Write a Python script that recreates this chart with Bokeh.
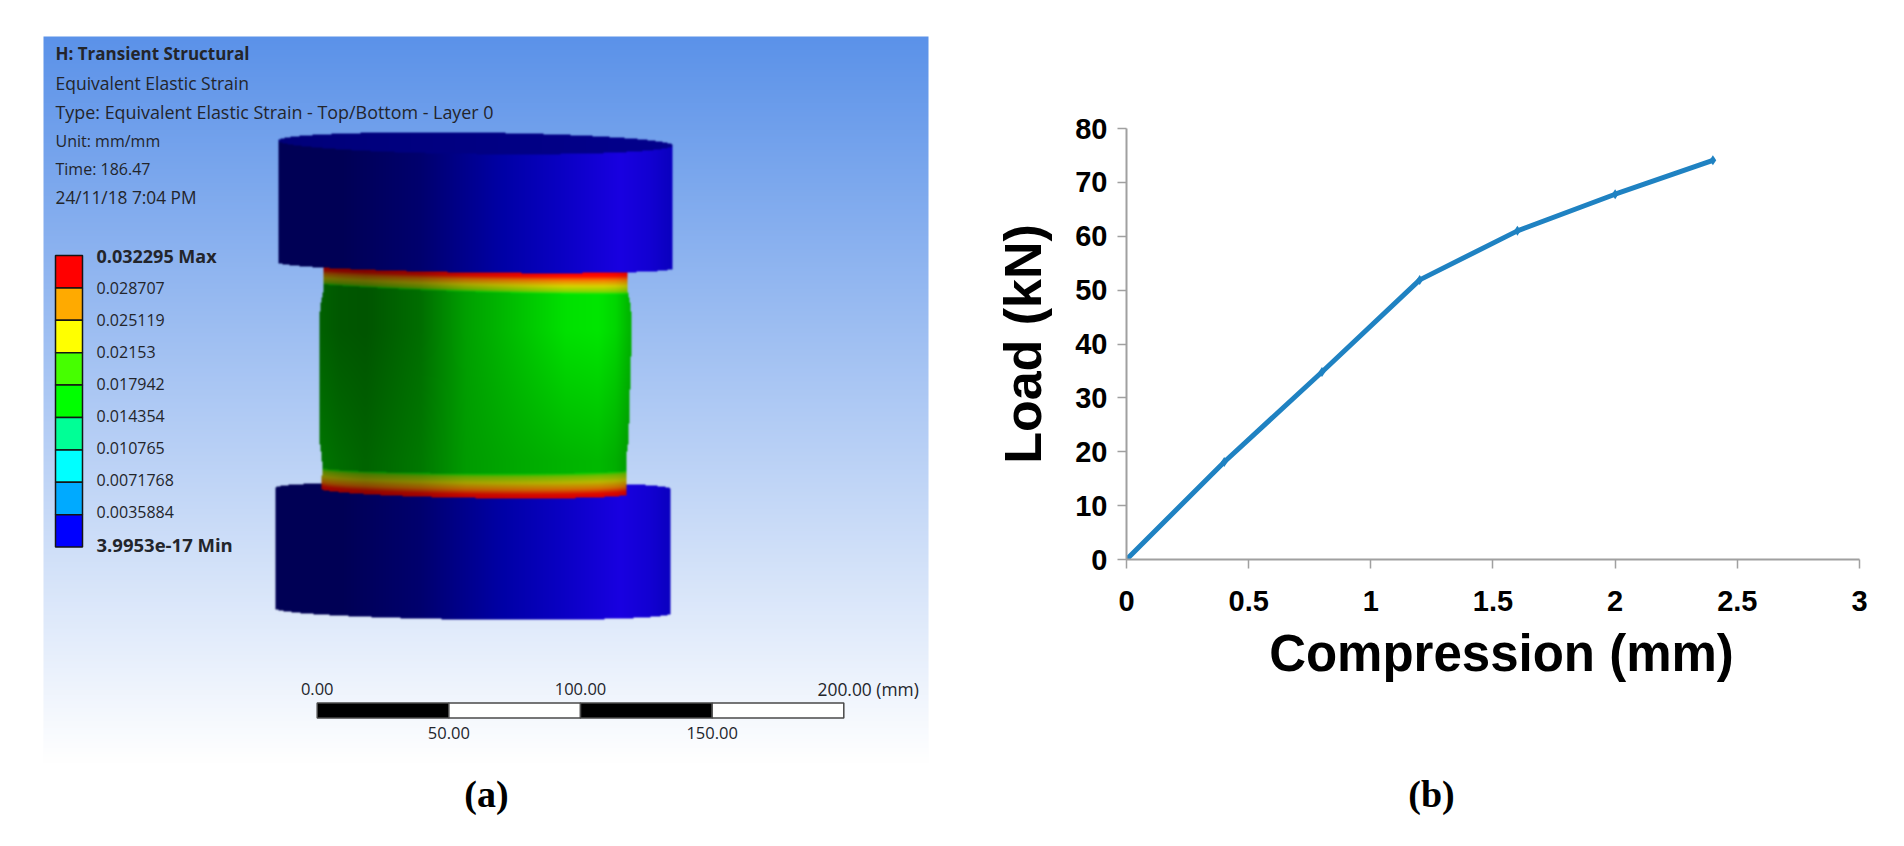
import numpy as np
from bokeh.embed import file_html
from bokeh.resources import INLINE
from bokeh.layouts import row, column
from bokeh.models import Range1d, ColumnDataSource, FixedTicker
from bokeh.plotting import figure
from bokeh.core.properties import value

# ---------- panel (b) data ----------
compression_mm = [0, 0.4, 0.8, 1.2, 1.6, 2.0, 2.4]
load_kn = [0, 18.1, 34.8, 51.9, 61.0, 67.8, 74.1]
x_ticks = [0, 0.5, 1, 1.5, 2, 2.5, 3]
x_tick_labels = ["0", "0.5", "1", "1.5", "2", "2.5", "3"]
y_ticks = [0, 10, 20, 30, 40, 50, 60, 70, 80]

# ---------- panel (a) data ----------
header_lines = ["H: Transient Structural", "Equivalent Elastic Strain",
                "Type: Equivalent Elastic Strain - Top/Bottom - Layer 0",
                "Unit: mm/mm", "Time: 186.47", "24/11/18 7:04 PM"]
legend_labels = ["0.032295 Max", "0.028707", "0.025119", "0.02153", "0.017942",
                 "0.014354", "0.010765", "0.0071768", "0.0035884", "3.9953e-17 Min"]
legend_colors = ["#ff0000", "#ffaa00", "#ffff00", "#46ff00", "#00ff00",
                 "#00ff96", "#00ffff", "#00aaff", "#0000ff"]
scale_ticks_mm = [0, 50, 100, 150, 200]
scale_colors = ["#000000", "#ffffff", "#000000", "#ffffff"]
scale_top_labels = ["0.00", "100.00", "200.00 (mm)"]
scale_top_values = [0, 100, 200]
scale_bottom_labels = ["50.00", "150.00"]
scale_bottom_values = [50, 150]

PAGE_H = 840
CHART_H = 760
def Y(py):
    return PAGE_H - np.asarray(py, dtype=float)

# ---------- the simulation picture (backdrop + three bodies) ----------
X0, X1, Y0, Y1 = 43, 928, 36, 762
xs, ys = np.meshgrid(np.arange(X0, X1) + .5, np.arange(Y0, Y1) + .5)
t = np.clip((ys - Y0) / (760 - Y0), 0, 1)[..., None]
img = np.array([91., 146., 233.]) * (1 - t) + 255. * t

def arc(x, cx, rx):
    return np.sqrt(np.clip(1 - ((x - cx) / rx) ** 2, 0, 1))

bx = [275, 340, 420, 500, 560, 620, 650, 672]
blue = np.interp(xs, bx, [85, 85, 110, 165, 195, 225, 210, 190])
red = np.interp(xs, bx, [0, 0, 0, 0, 10, 25, 18, 10])
side = np.stack([red, 0 * red, blue], axis=-1)

# bottom block
cx, rx = 472.5, 197.5
v = (xs - 275) / 395
a = arc(xs, cx, rx)
m = (xs > 275) & (xs < 670) & (ys > 487 + v - 7 * a) & (ys < 608 + 5 * v + 8.5 * a)
img[m] = side[m]

# column
ly = [265, 292, 305, 322, 440, 455, 467, 500]
left = np.interp(ys, ly, [323, 322.5, 320, 318.5, 319, 321, 322, 320])
right = np.interp(ys, ly, [627, 627.5, 630, 631.5, 628, 626, 626, 626])
cv = (xs - 322) / 305
ca = arc(xs, 475, 155)
bot = 488 + 5 * cv + 7 * ca
m = (xs > left) & (xs < right) & (ys < bot) & (ys > 260)
gx = [318, 340, 365, 420, 465, 520, 565, 598, 615, 632]
g_top = np.interp(xs, gx, [98, 88, 85, 110, 160, 195, 225, 230, 215, 175])
g_low = np.interp(xs, gx, [118, 108, 100, 120, 155, 170, 180, 185, 175, 150])
mix = np.clip((ys - 330) / 130, 0, 1)
g = g_top * (1 - mix) + g_low * mix
col = np.stack([0 * g, g, 0 * g], axis=-1)
# strain bands at both ends of the column
top_edge = 262 + 6 * (xs - 278) / 395 + 7 * arc(xs, 475, 197.5)
top_f = (ys - top_edge) / (17 + 5 * cv)
band_top = 467 + 2 * cv + 5 * ca
bot_f = (bot - ys) / (bot - band_top)
f = np.minimum(top_f, bot_f)
stops = [0, .15, .35, .62, .88, 1]
ramp = np.stack([np.interp(f, stops, [255, 255, 245, 215, 130, 0]),
                 np.interp(f, stops, [0, 10, 125, 210, 215, 235]),
                 0 * f], axis=-1)
shade_b = np.minimum(np.clip(g / 225., 0, 1.1)[..., None] ** .7, 1)
band = ramp * shade_b
bm = m & (f < 1)
img[bm] = band[bm]
gm = m & (f >= 1)
img[gm] = col[gm]

# top block
cx, rx = 475, 197.5
v = (xs - 278) / 395
a = arc(xs, cx, rx)
m = (xs > 278) & (xs < 672.5) & (ys > 142.5 + 5 * (v - .5) - 10.5 * a) & (ys < 262 + 6 * v + 7 * a)
img[m] = side[m]
face = (ys < 140 + 5 * v + 11 * a) & m
img[face] = np.stack([3 * v, 0 * v, 122 + 18 * v], axis=-1)[face]

# soft edges, as in a scaled screenshot
for _ in range(2):
    p = np.pad(img, ((1, 1), (1, 1), (0, 0)), mode="edge")
    img = (p[:-2, 1:-1] + p[2:, 1:-1] + p[1:-1, :-2] + p[1:-1, 2:] + 2 * p[1:-1, 1:-1]) / 6

rgba = np.dstack([img, np.full(img.shape[:2], 255.)]).astype(np.uint8)
packed = rgba[::-1].view(dtype=np.uint32).reshape(rgba.shape[:2])

# ---------- left figure: page pixels as coordinates ----------
left_fig = figure(width=938, height=PAGE_H, x_range=Range1d(0, 938), y_range=Range1d(0, PAGE_H),
                  x_axis_type=None, y_axis_type=None, toolbar_location=None,
                  output_backend="svg", min_border=0, outline_line_color=None)
left_fig.frame_align = False
left_fig.grid.visible = False
left_fig.image_rgba(image=[packed], x=X0, y=float(Y(Y1)), dw=X1 - X0, dh=Y1 - Y0)

FONT = "Open Sans"
INK = "#23252b"
hy = [53, 82, 111, 140, 168, 197]
left_fig.text(x=[55] * 6, y=Y(hy), text=header_lines, text_font=value(FONT),
              text_font_size=["17px", "17.5px", "17.9px", "16px", "16px", "17.3px"],
              text_baseline="middle", text_color=INK,
              text_font_style=["bold"] + ["normal"] * 5)

n = len(legend_colors)
edges = 255 + 32.4 * np.arange(n + 1)
left_fig.quad(left=55, right=82, top=Y(edges[:-1]), bottom=Y(edges[1:]),
              fill_color=legend_colors, line_color="#151515", line_width=1.5)
left_fig.text(x=[96] * (n + 1), y=Y(255 + 32.1 * np.arange(n + 1)), text=legend_labels,
              text_font=value(FONT), text_font_size=["18px"] + ["16px"] * (n - 1) + ["18.5px"],
              text_baseline="middle", text_color=INK,
              text_font_style=["bold"] + ["normal"] * (n - 1) + ["bold"])

to_px = lambda mm: 316.7 + np.asarray(mm, dtype=float) * (843.3 - 316.7) / 200
left_fig.quad(left=to_px(scale_ticks_mm[:-1]), right=to_px(scale_ticks_mm[1:]),
              top=Y(702.5), bottom=Y(717.5), fill_color=scale_colors,
              line_color="#4a4a4a", line_width=1.5)
top_x = to_px(scale_top_values)
left_fig.text(x=top_x[:2], y=Y(688), text=scale_top_labels[:2], text_font=value(FONT),
              text_font_size="16.5px", text_align="center", text_baseline="middle", text_color=INK)
left_fig.text(x=[817], y=Y(688), text=scale_top_labels[2:], text_font=value(FONT),
              text_font_size="17.4px", text_align="left", text_baseline="middle", text_color=INK)
left_fig.text(x=to_px(scale_bottom_values), y=Y(732), text=scale_bottom_labels, text_font=value(FONT),
              text_font_size="16.5px", text_align="center", text_baseline="middle", text_color=INK)
left_fig.text(x=[486], y=Y(793), text=["(a)"], text_font=value("Liberation Serif"),
              text_font_style="bold", text_font_size="38px", text_align="center",
              text_baseline="middle", text_color="#000000")

# ---------- right figure: load against compression ----------
PX_PER_MM = 244.33
right_fig = figure(width=958, height=CHART_H, x_range=Range1d(0, 750 / PX_PER_MM), y_range=Range1d(0, 80),
                   toolbar_location=None, output_backend="svg", min_border_left=188,
                   min_border_right=20, min_border_top=128, min_border_bottom=CHART_H - 128 - 431,
                   outline_line_color=None, x_axis_label="Compression (mm)", y_axis_label="Load (kN)")
right_fig.frame_align = False
right_fig.grid.visible = False
for ax in (right_fig.xaxis[0], right_fig.yaxis[0]):
    ax.axis_line_color = "#a0a0a0"
    ax.axis_line_width = 2
    ax.major_tick_line_color = "#a0a0a0"
    ax.major_tick_line_width = 1.5
    ax.major_tick_out = 9
    ax.major_tick_in = 0
    ax.minor_tick_line_color = None
    ax.major_label_text_font = "Liberation Sans"
    ax.major_label_text_font_style = "bold"
    ax.major_label_text_font_size = "29px"
    ax.major_label_text_color = "#000000"
    ax.axis_label_text_font = "Liberation Sans"
    ax.axis_label_text_font_style = "bold"
    ax.axis_label_text_font_size = "52px"
    ax.axis_label_text_color = "#000000"
right_fig.xaxis[0].bounds = (0, 3)
right_fig.xaxis[0].ticker = FixedTicker(ticks=x_ticks)
right_fig.xaxis[0].major_label_overrides = dict(zip(x_ticks, x_tick_labels))
right_fig.xaxis[0].axis_label_text_font_size = "51px"
right_fig.yaxis[0].ticker = FixedTicker(ticks=y_ticks)
right_fig.xaxis[0].major_label_standoff = 22
right_fig.yaxis[0].major_label_standoff = 10
right_fig.xaxis[0].axis_label_standoff = 11
right_fig.yaxis[0].axis_label_standoff = 20

src = ColumnDataSource(dict(x=compression_mm, y=load_kn))
right_fig.line("x", "y", source=src, line_color="#1f82c2", line_width=5, line_join="round")
right_fig.scatter("x", "y", source=src, marker="diamond", size=10, fill_color="#1f82c2", line_color=None)

# ---------- caption strip under the chart ----------
caption_fig = figure(width=958, height=PAGE_H - CHART_H, x_range=Range1d(938, 1896),
                     y_range=Range1d(0, PAGE_H - CHART_H), x_axis_type=None, y_axis_type=None,
                     toolbar_location=None, output_backend="svg", min_border=0, outline_line_color=None)
caption_fig.frame_align = False
caption_fig.grid.visible = False
caption_fig.text(x=[1431], y=Y(793), text=["(b)"], text_font=value("Liberation Serif"),
                 text_font_style="bold", text_font_size="38px", text_align="center",
                 text_baseline="middle", text_color="#000000")

open("out.html", "w").write(file_html(row(left_fig, column(right_fig, caption_fig, spacing=0), spacing=0), INLINE))
